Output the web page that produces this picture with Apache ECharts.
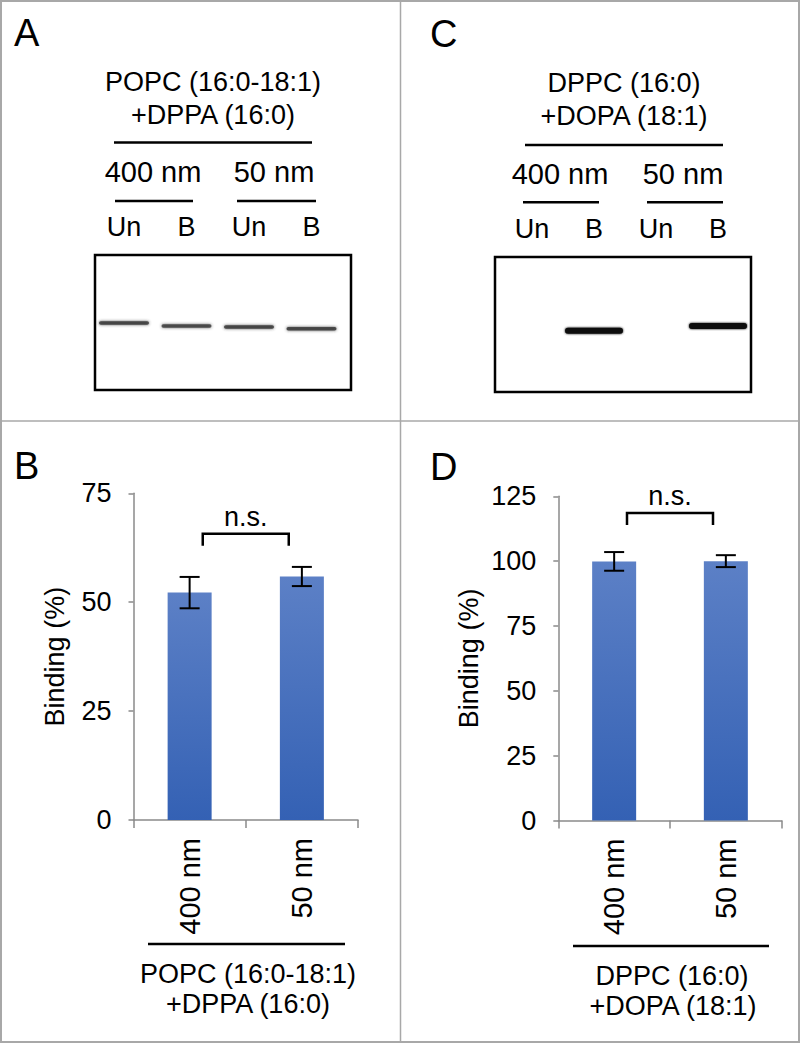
<!DOCTYPE html>
<html><head><meta charset="utf-8">
<script src="https://cdn.jsdelivr.net/npm/echarts@6/dist/echarts.min.js"></script>
<style>html,body{margin:0;padding:0;background:#fff}#c{width:800px;height:1043px}</style>
</head><body><div id="c"></div>
<script>
// ---- data ----
const lanes = ['Un', 'B', 'Un', 'B'];
// gel bands: [lane index, migration (% of gel height), intensity]
const gelABands = [[0, 50.4, 0.8], [1, 52.6, 0.75], [2, 53.3, 0.8], [3, 54.7, 0.8]];
const gelCBands = [[1, 54.7, 1.0], [3, 51.1, 1.0]];
const sizes = ['400 nm', '50 nm'];
const bindingB = [52.2, 55.9];
const errB = [3.6, 2.2];
const bindingD = [99.9, 100.0];
const errD = [3.6, 2.3];
const yTicksB = [0, 25, 50, 75];
const yTicksD = [0, 25, 50, 75, 100, 125];
const sigLabel = 'n.s.';
const sigB = 65.7;
const sigD = 118.6;
const lipidB = ['POPC (16:0-18:1)', '+DPPA (16:0)'];
const lipidD = ['DPPC (16:0)', '+DOPA (18:1)'];

const FONT = '"Liberation Sans", Arial, sans-serif';
const AXIS_GRAY = '#8a8a8a';

function bandRender(w, h, color, blur) {
  return function (params, api) {
    const p = api.coord([api.value(0), api.value(1)]);
    const a = api.value(2);
    return {
      type: 'rect',
      shape: { x: p[0] - w / 2, y: p[1] - h / 2, width: w, height: h, r: h / 2 },
      style: { fill: color, opacity: a, shadowBlur: blur, shadowColor: color }
    };
  };
}
function errRender(params, api) {
  const x = api.value(0), lo = api.value(1), hi = api.value(2);
  const pl = api.coord([x, lo]), ph = api.coord([x, hi]);
  const cw = 10;
  const st = { stroke: '#000', lineWidth: 2, fill: null };
  return { type: 'group', children: [
    { type: 'line', shape: { x1: pl[0], y1: pl[1], x2: ph[0], y2: ph[1] }, style: st },
    { type: 'line', shape: { x1: pl[0] - cw, y1: pl[1], x2: pl[0] + cw, y2: pl[1] }, style: st },
    { type: 'line', shape: { x1: ph[0] - cw, y1: ph[1], x2: ph[0] + cw, y2: ph[1] }, style: st }
  ]};
}
function bracketRender(params, api) {
  const y = api.value(1);
  const a = api.coord([0, y]), b = api.coord([1, y]);
  const mid = (a[0] + b[0]) / 2, hw = 43, leg = 12;
  return { type: 'group', children: [
    { type: 'polyline', shape: { points: [[mid - hw, a[1] + leg], [mid - hw, a[1]], [mid + hw, a[1]], [mid + hw, a[1] + leg]] },
      style: { stroke: '#000', lineWidth: 2.5, fill: null } },
    { type: 'text', x: mid, y: a[1] - 17,
      style: { text: sigLabel, fontSize: 27, fontFamily: FONT, fill: '#000', align: 'center', verticalAlign: 'middle' } }
  ]};
}

const barColor = new echarts.graphic.LinearGradient(0, 0, 0, 1, [
  { offset: 0, color: '#5c80c6' }, { offset: 1, color: '#3461b4' }
]);

function gelX(gridIndex) {
  return { type: 'category', gridIndex, data: lanes, position: 'top', boundaryGap: true,
    axisLine: { show: false }, axisTick: { show: false },
    axisLabel: { fontSize: 27, fontFamily: FONT, color: '#000', margin: 15 } };
}
function gelY(gridIndex) {
  return { type: 'value', gridIndex, min: 0, max: 100, inverse: true, show: false };
}
function barX(gridIndex) {
  return { type: 'category', gridIndex, data: sizes, boundaryGap: true,
    axisLine: { show: true, lineStyle: { color: AXIS_GRAY, width: 1.5 } },
    axisTick: { show: true, length: 8, lineStyle: { color: AXIS_GRAY, width: 1.5 } },
    axisLabel: { rotate: 90, fontSize: 29, fontFamily: FONT, color: '#000', margin: 18 } };
}
function barY(gridIndex, ticks, nameGap) {
  return { type: 'value', gridIndex, min: ticks[0], max: ticks[ticks.length - 1], interval: ticks[1] - ticks[0],
    name: 'Binding (%)', nameLocation: 'middle', nameRotate: 90, nameGap,
    nameTextStyle: { fontSize: 27, fontFamily: FONT, color: '#000' },
    axisLine: { show: true, lineStyle: { color: AXIS_GRAY, width: 1.5 } },
    axisTick: { show: true, length: 5, lineStyle: { color: AXIS_GRAY, width: 1.5 } },
    splitLine: { show: false },
    axisLabel: { fontSize: 27, fontFamily: FONT, color: '#000', margin: 22 } };
}

function txt(x, y, s, size) {
  return { type: 'text', x, y, style: { text: s, fontSize: size || 27, fontFamily: FONT, fill: '#000', align: 'center', verticalAlign: 'middle' } };
}
function hline(x1, x2, y, w, color) {
  return { type: 'line', shape: { x1, y1: y, x2, y2: y }, style: { stroke: color || '#000', lineWidth: w || 2.5 } };
}
function vline(x, y1, y2, w, color) {
  return { type: 'line', shape: { x1: x, y1, x2: x, y2 }, style: { stroke: color, lineWidth: w } };
}
function letter(x, y, s) {
  return { type: 'text', x, y, style: { text: s, fontSize: 38, fontFamily: FONT, fill: '#000', align: 'left', verticalAlign: 'middle' } };
}

const graphics = [
  // frame & dividers
  { type: 'rect', shape: { x: 1, y: 1, width: 798, height: 1041 }, style: { fill: null, stroke: '#a8a8a8', lineWidth: 2 } },
  vline(400.5, 0, 1043, 1.5, '#a8a8a8'),
  hline(0, 800, 421, 1.5, '#a8a8a8'),
  // panel letters
  letter(14, 33, 'A'), letter(430, 34, 'C'), letter(14, 466, 'B'), letter(430, 467, 'D'),
  // panel A header
  txt(213, 82, lipidB[0]), txt(213, 115, lipidB[1]), hline(114, 312, 142.5),
  txt(153, 172, sizes[0], 29), txt(274, 172, sizes[1], 29),
  hline(115, 193, 201), hline(237, 316, 201),
  { type: 'rect', shape: { x: 95, y: 255, width: 256, height: 135 }, style: { fill: null, stroke: '#000', lineWidth: 2.5 } },
  // panel C header
  txt(624, 83, lipidD[0]), txt(624, 116, lipidD[1]), hline(525, 723, 145),
  txt(560, 174, sizes[0], 29), txt(683, 174, sizes[1], 29),
  hline(523, 599, 202.3), hline(647, 723, 202.3),
  { type: 'rect', shape: { x: 495, y: 257, width: 256, height: 135 }, style: { fill: null, stroke: '#000', lineWidth: 2.5 } },
  // panel B footer
  hline(148, 345, 944), txt(248, 974, lipidB[0]), txt(248, 1004, lipidB[1]),
  // panel D footer
  hline(573, 769, 946), txt(672, 976, lipidD[0]), txt(673, 1006, lipidD[1])
];

const chart = echarts.init(document.getElementById('c'), null, { renderer: 'svg' });
chart.setOption({
  backgroundColor: '#fff',
  animation: false,
  textStyle: { fontFamily: FONT },
  grid: [
    { left: 92.75, top: 255, width: 250, height: 135 },
    { left: 501, top: 257, width: 248, height: 135 },
    { left: 133.5, top: 493.3, width: 224.5, height: 326.7 },
    { left: 558.3, top: 496.3, width: 223.4, height: 324.2 }
  ],
  xAxis: [gelX(0), gelX(1), barX(2), barX(3)],
  yAxis: [gelY(0), gelY(1), barY(2, yTicksB, 65), barY(3, yTicksD, 76)],
  series: [
    { type: 'custom', xAxisIndex: 0, yAxisIndex: 0, data: gelABands, encode: { x: 0, y: 1 },
      renderItem: bandRender(50, 3.5, '#333333', 3), clip: false },
    { type: 'custom', xAxisIndex: 1, yAxisIndex: 1, data: gelCBands, encode: { x: 0, y: 1 },
      renderItem: bandRender(58, 6, '#0a0a0a', 2), clip: false },
    { type: 'bar', xAxisIndex: 2, yAxisIndex: 2, data: bindingB, barWidth: 44, itemStyle: { color: barColor } },
    { type: 'bar', xAxisIndex: 3, yAxisIndex: 3, data: bindingD, barWidth: 44, itemStyle: { color: barColor } },
    { type: 'custom', xAxisIndex: 2, yAxisIndex: 2, encode: { x: 0, y: [1, 2] }, clip: false, z: 5,
      data: bindingB.map((v, i) => [i, v - errB[i], v + errB[i]]), renderItem: errRender },
    { type: 'custom', xAxisIndex: 3, yAxisIndex: 3, encode: { x: 0, y: [1, 2] }, clip: false, z: 5,
      data: bindingD.map((v, i) => [i, v - errD[i], v + errD[i]]), renderItem: errRender },
    { type: 'custom', xAxisIndex: 2, yAxisIndex: 2, encode: { x: 0, y: 1 }, clip: false,
      data: [[0, sigB]], renderItem: bracketRender },
    { type: 'custom', xAxisIndex: 3, yAxisIndex: 3, encode: { x: 0, y: 1 }, clip: false,
      data: [[0, sigD]], renderItem: bracketRender }
  ],
  graphic: graphics
});
</script>
</body></html>
